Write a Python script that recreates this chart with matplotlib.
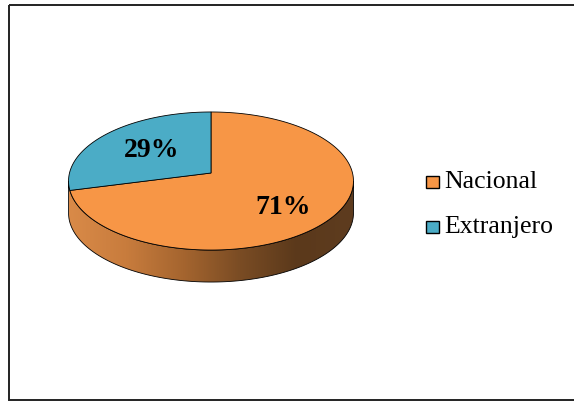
import numpy as np
import matplotlib.pyplot as plt
from matplotlib.patches import Polygon, Rectangle
from matplotlib.colors import LinearSegmentedColormap

# data
labels = ["Nacional", "Extranjero"]
shares = [71, 29]
pct_labels = ["71%", "29%"]
colors = ["#F79646", "#4BACC6"]

# 3D pie geometry (pixel space)
cx, cy = 211.0, 173.0
a, b = 141.5, 68.1
k = 0.116          # perspective factor
depth = 32.0


def proj(t_deg, f=1.0):
    t = np.radians(t_deg)
    w = 1 + k * f * np.sin(t)
    return cx + a * f * np.cos(t) / w, cy - b * f * np.sin(t) / w


fig = plt.figure(figsize=(5.74, 4.01), dpi=100)
ax = fig.add_axes([0, 0, 1, 1])
ax.set_xlim(0, 574)
ax.set_ylim(401, 0)
ax.axis("off")

# side wall with gradient
t_side = np.degrees(np.arcsin(k))
ts = np.linspace(180 + t_side, 360 - t_side, 300)
tx, ty = proj(ts)
side_pts = np.vstack([np.column_stack([tx, ty]),
                      np.column_stack([tx[::-1], ty[::-1] + depth])])
side = Polygon(side_pts, closed=True, facecolor="none", edgecolor="black", lw=0.6, zorder=3)
ax.add_patch(side)
grad_cmap = LinearSegmentedColormap.from_list(
    "side", ["#d98a48", "#c87c3d", "#a5652f", "#7a4c24", "#5b391b", "#5e3c1f"])
grad = np.linspace(0, 1, 256).reshape(1, -1)
im = ax.imshow(grad, cmap=grad_cmap, aspect="auto",
               extent=[tx.min(), tx.max(), ty.max() + depth, ty.min()], zorder=2)
im.set_clip_path(side)

# top faces
total = sum(shares)
start = 90.0
label_frac = [0.62, 0.55]
label_dy = [7, 0]
for i, s in enumerate(shares):
    t1 = start - 360.0 * s / total
    tt = np.linspace(t1, start, 200)
    px, py = proj(tt)
    pts = np.vstack([[cx, cy], np.column_stack([px, py])])
    ax.add_patch(Polygon(pts, closed=True, facecolor=colors[i], edgecolor="black",
                         lw=0.6, zorder=4))
    mid = (t1 + start) / 2
    lx, ly = proj(mid, label_frac[i])
    ax.text(lx, ly + label_dy[i], pct_labels[i], ha="center", va="center",
            fontsize=20, fontweight="bold", family="Liberation Serif", zorder=5)
    start = t1

# legend
leg_y = [181.5, 226.5]
for i, lab in enumerate(labels):
    ax.add_patch(Rectangle((426, leg_y[i] - 6), 12.5, 12.5, facecolor=colors[i],
                           edgecolor="black", lw=1.0, zorder=5))
    ax.text(444, leg_y[i], lab, ha="left", va="center", fontsize=18.5,
            family="Liberation Serif", zorder=5)

# chart border
ax.add_patch(Rectangle((8.5, 4.5), 600, 395, facecolor="none", edgecolor="#222222",
                       lw=1.4, clip_on=False, zorder=6))

fig.savefig("out.png", dpi=100)
